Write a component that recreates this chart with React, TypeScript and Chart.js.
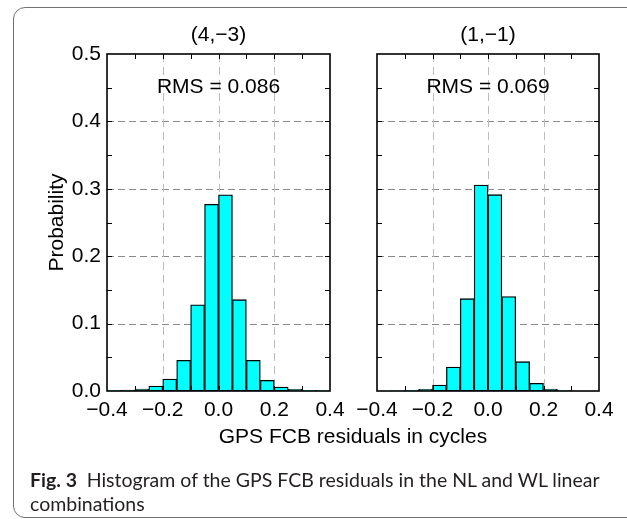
import React, { useEffect, useRef } from "react";
import { Chart, registerables } from "chart.js";

Chart.register(...registerables);

// Histogram bins (centres, width 0.05 cycles)
const binCenters = [
  -0.375, -0.325, -0.275, -0.225, -0.175, -0.125, -0.075, -0.025,
  0.025, 0.075, 0.125, 0.175, 0.225, 0.275, 0.325, 0.375,
];
// (4,-3) combination
const probLeft = [
  0.001, 0.0015, 0.003, 0.0074, 0.0178, 0.0455, 0.128, 0.277,
  0.291, 0.1355, 0.0455, 0.0158, 0.0059, 0.0025, 0.001, 0.0005,
];
// (1,-1) combination
const probRight = [
  0, 0.0003, 0.001, 0.0025, 0.0089, 0.0356, 0.137, 0.3056,
  0.2913, 0.14, 0.0435, 0.0114, 0.003, 0.0008, 0, 0,
];
const panelTitles = ["(4,\u22123)", "(1,\u22121)"];
const rmsLabels = ["RMS = 0.086", "RMS = 0.069"];
const yGridValues = [0.1, 0.2, 0.3, 0.4];
const xGridValues = [-0.2, 0, 0.2];
const yTickMarks = [0.05, 0.1, 0.15, 0.2, 0.25, 0.3, 0.35, 0.4, 0.45];
const xTickMarks = [-0.3, -0.2, -0.1, 0, 0.1, 0.2, 0.3];
const yTitle = "Probability";
const xTitle = "GPS FCB residuals in cycles";

const FONT = '"Liberation Sans", Arial, Helvetica, sans-serif';

function makeDecor(title: string, rms: string, showYTitle: boolean) {
  return {
    id: "decor",
    beforeDatasetsDraw(chart: any) {
      const { ctx, chartArea: a } = chart;
      const x = chart.scales.x;
      const y = chart.scales.y;
      ctx.save();
      ctx.lineWidth = 1;
      ctx.setLineDash([7, 4]);
      ctx.strokeStyle = "#8a8a8a";
      for (const v of yGridValues) {
        const py = Math.round(y.getPixelForValue(v)) + 0.5;
        ctx.beginPath();
        ctx.moveTo(a.left, py);
        ctx.lineTo(a.right, py);
        ctx.stroke();
      }
      ctx.strokeStyle = "#bcbcbc";
      ctx.setLineDash([8, 5]);
      for (const v of xGridValues) {
        const px = Math.round(x.getPixelForValue(v)) + 0.5;
        ctx.beginPath();
        ctx.moveTo(px, a.top);
        ctx.lineTo(px, a.bottom);
        ctx.stroke();
      }
      ctx.restore();
    },
    afterDatasetsDraw(chart: any) {
      const { ctx, chartArea: a } = chart;
      const x = chart.scales.x;
      const y = chart.scales.y;
      ctx.save();
      ctx.setLineDash([]);
      ctx.strokeStyle = "#000";
      ctx.lineWidth = 1;
      const tl = 5;
      for (const v of yTickMarks) {
        const py = Math.round(y.getPixelForValue(v)) + 0.5;
        ctx.beginPath();
        ctx.moveTo(a.left, py);
        ctx.lineTo(a.left + tl, py);
        ctx.moveTo(a.right, py);
        ctx.lineTo(a.right - tl, py);
        ctx.stroke();
      }
      for (const v of xTickMarks) {
        const px = Math.round(x.getPixelForValue(v)) + 0.5;
        ctx.beginPath();
        ctx.moveTo(px, a.top);
        ctx.lineTo(px, a.top + tl);
        ctx.moveTo(px, a.bottom);
        ctx.lineTo(px, a.bottom - tl);
        ctx.stroke();
      }
      ctx.lineWidth = 1.6;
      ctx.strokeRect(a.left, a.top, a.right - a.left, a.bottom - a.top);

      ctx.fillStyle = "#000";
      ctx.textAlign = "center";
      ctx.textBaseline = "middle";
      const cx = (a.left + a.right) / 2;
      ctx.font = `21px ${FONT}`;
      ctx.fillText(title, cx, a.top - 19);
      ctx.font = `21px ${FONT}`;
      ctx.fillText(rms, cx, y.getPixelForValue(0.45));
      if (showYTitle) {
        ctx.save();
        ctx.translate(57, (a.top + a.bottom) / 2);
        ctx.rotate(-Math.PI / 2);
        ctx.font = `21px ${FONT}`;
        ctx.fillText(yTitle, 0, 0);
        ctx.restore();
      }
      ctx.restore();
    },
  };
}

const Y_AXIS_W = 50;
const X_AXIS_H = 40;

function buildChart(
  canvas: HTMLCanvasElement,
  values: number[],
  title: string,
  rms: string,
  first: boolean
) {
  const padding = first
    ? { left: 107 - Y_AXIS_W, right: 297, top: 54, bottom: 128 - X_AXIS_H }
    : { left: 377 - Y_AXIS_W, right: 28, top: 54, bottom: 128 - X_AXIS_H };
  return new Chart(canvas, {
    type: "bar",
    data: {
      datasets: [
        {
          data: binCenters.map((c, i) => ({ x: c, y: values[i] })),
          backgroundColor: "#00ffff",
          borderColor: "#000000",
          borderWidth: 1.3,
          borderSkipped: false,
          barPercentage: 1,
          categoryPercentage: 1,
        },
      ],
    },
    options: {
      responsive: false,
      maintainAspectRatio: false,
      animation: false,
      layout: { padding },
      plugins: { legend: { display: false }, tooltip: { enabled: false } },
      scales: {
        x: {
          type: "linear",
          min: -0.4,
          max: 0.4,
          offset: false,
          grid: { display: false, drawTicks: false, offset: false },
          border: { display: false },
          ticks: {
            stepSize: 0.2,
            padding: 7,
            color: "#000",
            font: { family: FONT, size: 21 },
            maxRotation: 0,
            autoSkip: false,
            callback: (v: any) => {
              const n = Number(v);
              const s = Math.abs(n).toFixed(1);
              return n < -1e-9 ? "\u2212" + s : s;
            },
          },
          afterFit: (s: any) => {
            s.height = X_AXIS_H;
            s.paddingLeft = 0;
            s.paddingRight = 0;
          },
        },
        y: {
          min: 0,
          max: 0.5,
          grid: { display: false, drawTicks: false },
          border: { display: false },
          ticks: {
            display: first,
            stepSize: 0.1,
            padding: 6,
            color: "#000",
            font: { family: FONT, size: 21 },
            callback: (v: any) => Number(v).toFixed(1),
          },
          afterFit: (s: any) => {
            s.width = Y_AXIS_W;
            s.paddingTop = 0;
            s.paddingBottom = 0;
          },
        },
      },
    },
    plugins: [makeDecor(title, rms, first)],
  } as any);
}

export default function App() {
  const leftRef = useRef<HTMLCanvasElement>(null);
  const rightRef = useRef<HTMLCanvasElement>(null);

  useEffect(() => {
    const c1 = buildChart(leftRef.current!, probLeft, panelTitles[0], rmsLabels[0], true);
    const c2 = buildChart(rightRef.current!, probRight, panelTitles[1], rmsLabels[1], false);
    return () => {
      c1.destroy();
      c2.destroy();
    };
  }, []);

  const canvasStyle: React.CSSProperties = {
    position: "absolute",
    left: 0,
    top: 0,
    width: 627,
    height: 519,
  };

  return (
    <div
      style={{
        position: "absolute",
        left: 0,
        top: 0,
        width: 627,
        height: 519,
        overflow: "hidden",
        background: "#fff",
      }}
    >
      <div
        style={{
          position: "absolute",
          left: 13,
          top: 7,
          width: 640,
          height: 511,
          border: "1px solid #707070",
          borderRadius: 12,
          boxSizing: "border-box",
        }}
      />
      <canvas ref={leftRef} width={627} height={519} style={canvasStyle} />
      <canvas ref={rightRef} width={627} height={519} style={canvasStyle} />
      <div
        style={{
          position: "absolute",
          left: 107,
          width: 492,
          top: 424,
          textAlign: "center",
          fontFamily: FONT,
          fontSize: 21,
          lineHeight: "24px",
          color: "#000",
        }}
      >
        {xTitle}
      </div>
      <div
        style={{
          position: "absolute",
          left: 30,
          top: 468,
          fontFamily: "Lato, 'Open Sans', sans-serif",
          fontSize: 19.5,
          lineHeight: "24px",
          color: "#231f20",
          whiteSpace: "nowrap",
        }}
      >
        <span style={{ fontWeight: 700 }}>Fig. 3</span>
        <span>{"\u2002Histogram of the GPS FCB residuals in the NL and WL linear"}</span>
        <br />
        <span>combinations</span>
      </div>
    </div>
  );
}
